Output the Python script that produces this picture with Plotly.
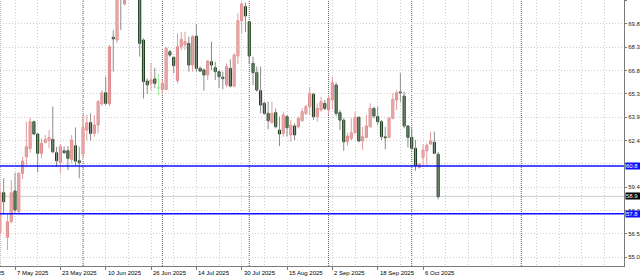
import plotly.graph_objects as go

# ---------------- data (daily candles, bar index 0 = 1 May 2025) ----------------
OPEN = [56.60, 59.13, 56.31, 57.30, 59.24, 57.93, 60.35, 61.41, 61.93, 63.62,
        62.84, 61.62, 62.30, 62.42, 62.50, 61.66, 61.03, 61.78, 61.79, 61.24,
        62.10, 61.15, 61.58, 63.09, 63.56, 62.88, 63.41, 64.74, 65.45, 64.74,
        68.95, 68.78, 73.80, 71.06, 74.50, 75.00, 75.50, 74.30, 68.78, 66.19,
        66.04, 66.32, 65.80, 65.66, 65.66, 68.04, 67.69, 66.21, 68.36, 68.47,
        68.57, 67.20, 69.03, 66.99, 66.89, 66.57, 67.41, 67.03, 66.78, 66.43,
        65.94, 66.99, 65.87, 67.77, 70.00, 70.90, 69.94, 67.31, 66.72, 65.58,
        64.78, 64.15, 63.56, 64.19, 63.09, 62.88, 63.94, 62.78, 63.35, 63.30,
        63.68, 64.15, 64.57, 65.35, 63.94, 64.36, 64.78, 64.36, 64.99, 65.94,
        64.19, 63.72, 62.35, 62.57, 62.92, 63.90, 62.40, 62.63, 63.30, 64.46,
        63.94, 63.62, 62.66, 62.63, 63.83, 64.99, 65.50, 65.24, 63.35, 62.63,
        61.94, 60.73, 61.37, 61.78, 62.21, 62.32, 61.56]
HIGH = [59.70, 60.04, 57.82, 59.93, 60.40, 60.42, 61.40, 63.62, 63.89, 63.68,
        62.88, 62.57, 62.78, 63.09, 64.57, 62.04, 62.21, 62.04, 62.08, 62.78,
        63.26, 62.04, 64.04, 64.04, 64.15, 64.04, 64.99, 65.62, 66.46, 68.47,
        69.40, 76.50, 74.50, 75.20, 75.80, 76.00, 76.00, 78.00, 68.89, 66.36,
        67.35, 67.03, 66.63, 66.29, 68.36, 68.15, 67.73, 69.20, 69.31, 69.31,
        68.99, 69.10, 69.79, 67.10, 66.99, 67.52, 68.68, 67.41, 66.84, 66.78,
        67.30, 67.56, 67.94, 70.47, 71.20, 71.15, 70.00, 67.73, 67.10, 67.10,
        64.90, 64.88, 64.88, 64.46, 63.94, 64.25, 64.04, 63.73, 63.52, 63.94,
        64.46, 64.67, 65.79, 65.45, 64.78, 65.20, 64.99, 65.31, 66.46, 66.10,
        64.36, 63.83, 62.92, 63.83, 64.25, 63.94, 63.30, 64.04, 64.78, 64.57,
        64.57, 63.73, 63.30, 63.94, 65.41, 65.62, 66.68, 65.51, 63.41, 63.20,
        62.46, 60.98, 62.19, 62.25, 62.99, 62.99, 61.72]
LOW = [56.40, 57.72, 55.51, 57.19, 57.82, 57.80, 60.00, 60.88, 61.66, 62.76,
       60.42, 61.30, 62.25, 61.93, 61.62, 60.78, 60.35, 61.57, 60.56, 60.98,
       60.88, 60.04, 61.41, 62.46, 62.42, 62.67, 62.88, 64.61, 64.67, 64.61,
       66.78, 68.61, 69.41, 70.95, 73.20, 73.80, 72.50, 67.73, 65.09, 65.35,
       65.62, 65.73, 65.30, 65.35, 65.62, 67.73, 66.67, 66.04, 68.15, 68.15,
       66.78, 66.78, 66.78, 66.78, 65.58, 66.25, 66.89, 66.25, 65.73, 65.66,
       65.80, 65.79, 65.79, 67.26, 69.20, 69.30, 67.31, 65.94, 65.51, 64.15,
       64.04, 63.14, 63.50, 63.20, 62.08, 62.67, 62.67, 62.35, 62.46, 63.20,
       63.62, 64.04, 64.04, 63.73, 63.62, 64.25, 64.36, 64.04, 64.40, 63.98,
       63.09, 61.78, 62.08, 62.46, 62.85, 62.33, 61.83, 62.57, 63.25, 63.83,
       63.41, 62.46, 61.87, 62.57, 63.77, 64.36, 64.88, 63.20, 62.00, 61.83,
       60.52, 60.66, 60.77, 60.82, 62.14, 61.58, 58.71]
CLOSE = [59.15, 58.56, 57.30, 59.13, 58.04, 60.35, 61.13, 62.04, 63.62, 62.84,
         61.62, 62.25, 62.50, 62.61, 61.72, 61.15, 62.04, 61.66, 61.30, 62.46,
         61.13, 61.03, 63.26, 63.56, 62.88, 63.41, 64.88, 65.45, 64.78, 68.36,
         68.85, 72.60, 71.70, 74.60, 75.00, 75.50, 74.50, 68.57, 66.15, 65.94,
         66.25, 66.04, 65.72, 66.04, 68.26, 67.83, 67.16, 68.36, 68.82, 68.68,
         67.20, 68.99, 66.99, 66.82, 66.57, 67.45, 67.20, 66.78, 66.46, 66.34,
         67.10, 65.87, 67.83, 70.00, 71.06, 70.30, 67.77, 66.72, 65.62, 64.67,
         64.15, 63.68, 64.15, 63.30, 62.84, 64.04, 63.24, 63.41, 62.78, 63.83,
         64.25, 64.57, 65.41, 63.94, 64.46, 64.88, 64.46, 65.10, 66.08, 64.15,
         63.72, 62.35, 62.71, 62.92, 63.90, 62.40, 62.67, 63.35, 64.46, 63.98,
         63.62, 62.67, 62.60, 63.83, 65.03, 65.45, 65.45, 63.35, 62.63, 61.94,
         60.85, 60.94, 61.83, 62.14, 62.40, 61.62, 58.88]

DATE_LABELS = ["21 Apr 2025", "7 May 2025", "23 May 2025", "10 Jun 2025", "26 Jun 2025",
               "14 Jul 2025", "30 Jul 2025", "15 Aug 2025", "2 Sep 2025", "18 Sep 2025",
               "6 Oct 2025"]
DATE_LABEL_BARS = [-8, 4, 16, 28, 40, 52, 64, 76, 88, 100, 112]
MONTH_START_BARS = [0, 22, 43, 66, 87, 109, 138]
PRICE_TICKS = [55.050, 56.525, 58.000, 59.475, 60.950, 62.425, 63.900,
               65.375, 66.850, 68.325, 69.800, 71.275]
# 60.950 is fully hidden behind the level tag in the original
PRICE_TICK_LABELS = ["55.0", "56.5", "58.0", "59.4", "", "62.4",
                     "63.9", "65.3", "66.8", "68.3", "69.8", "71.2"]
LEVELS = [60.82, 57.80]
LEVEL_LABELS = ["60.8", "57.8"]
LAST_PRICE = 58.90
LAST_PRICE_LABEL = "58.9"
ODD_BAR = 42  # pale green bar drawn in the original

# ---------------- styling ----------------
X_RANGE = [0.026, 165.19]
Y_RANGE = [54.50, 71.31]
BODY_W = 0.56
FONT = "Liberation Sans, Arial, sans-serif"
BULL_FILL, BULL_LINE, BULL_WICK = "#f5c6c6", "#de8a8a", "#e49c9c"
BEAR_FILL, BEAR_LINE, BEAR_WICK = "#1f7a1f", "#203a20", "#8c8c8c"
ODD_COL = "#9cf09c"

n = len(OPEN)
idx = list(range(n))

wick = {"bull": ([], []), "bear": ([], []), "odd": ([], [])}
kinds = []
for i in idx:
    k = "odd" if i == ODD_BAR else ("bull" if CLOSE[i] >= OPEN[i] else "bear")
    kinds.append(k)
    wx, wy = wick[k]
    wx += [i, i, None]
    wy += [LOW[i], HIGH[i], None]

wick_col = {"bull": BULL_WICK, "bear": BEAR_WICK, "odd": ODD_COL}
fill_col = {"bull": BULL_FILL, "bear": BEAR_FILL, "odd": ODD_COL}
line_col = {"bull": BULL_LINE, "bear": BEAR_LINE, "odd": ODD_COL}

fig = go.Figure()
for k in ["bull", "bear", "odd"]:
    fig.add_trace(go.Scatter(x=wick[k][0], y=wick[k][1], mode="lines",
                             line=dict(color=wick_col[k], width=1),
                             hoverinfo="skip", connectgaps=False))

bases = [min(o, c) for o, c in zip(OPEN, CLOSE)]
heights = [max(abs(c - o), 0.05) for o, c in zip(OPEN, CLOSE)]
fig.add_trace(go.Bar(x=idx, y=heights, base=bases, width=BODY_W,
                     marker=dict(color=[fill_col[k] for k in kinds],
                                 line=dict(color=[line_col[k] for k in kinds], width=1))))

shapes = []
for b in MONTH_START_BARS:
    shapes.append(dict(type="line", xref="x", yref="paper", x0=b, x1=b, y0=0, y1=1,
                       line=dict(color="#5a5a5a", width=1, dash="1px,1px"), layer="below"))
shapes.append(dict(type="line", xref="paper", yref="y", x0=0, x1=1, y0=LAST_PRICE, y1=LAST_PRICE,
                   line=dict(color="#cfcfcf", width=1), layer="below"))
for lv in LEVELS:
    shapes.append(dict(type="line", xref="paper", yref="y", x0=0, x1=1, y0=lv, y1=lv,
                       line=dict(color="#1010ff", width=1.5), layer="above"))

annotations = []
for lab, b in zip(DATE_LABELS, DATE_LABEL_BARS):
    if X_RANGE[0] <= b <= X_RANGE[1]:
        ref, xv = "x", b
    else:
        ref, xv = "paper", (b - X_RANGE[0]) / (X_RANGE[1] - X_RANGE[0])
    annotations.append(dict(text=lab, xref=ref, x=xv, yref="paper", y=0, xanchor="left",
                            yanchor="top", yshift=-2, showarrow=False,
                            font=dict(family=FONT, size=6, color="#000000")))
for lv, lab in zip(LEVELS, LEVEL_LABELS):
    annotations.append(dict(text=lab, xref="paper", x=1, xanchor="left", xshift=1,
                            yref="y", y=lv, yanchor="middle", showarrow=False,
                            bgcolor="#1010ff", borderpad=0, width=14, align="left",
                            font=dict(family=FONT, size=6, color="#ffffff")))
annotations.append(dict(text=LAST_PRICE_LABEL, xref="paper", x=1, xanchor="left", xshift=1,
                        yref="y", y=LAST_PRICE, yanchor="middle", showarrow=False,
                        bgcolor="#000000", borderpad=0, width=14, align="left",
                        font=dict(family=FONT, size=6, color="#ffffff")))

grid_bars = list(range(-2, 166, 6))

fig.update_layout(
    template="none",
    width=640, height=279,
    margin=dict(l=0, r=16, t=0, b=13, pad=0),
    paper_bgcolor="#ffffff", plot_bgcolor="#ffffff",
    showlegend=False, barmode="overlay",
    shapes=shapes, annotations=annotations,
    xaxis=dict(range=X_RANGE, showline=True, linecolor="#7a7a7a", linewidth=1,
               tickmode="array", tickvals=DATE_LABEL_BARS, showticklabels=False,
               ticks="outside", ticklen=3, tickcolor="#7a7a7a", tickwidth=1,
               showgrid=True, gridcolor="#cdcdcd", griddash="1px,2px", gridwidth=1,
               minor=dict(tickmode="array", tickvals=grid_bars, showgrid=True,
                          gridcolor="#cdcdcd", griddash="1px,2px", gridwidth=1, ticks=""),
               zeroline=False, automargin=False, fixedrange=True),
    yaxis=dict(range=Y_RANGE, side="right", showline=True, linecolor="#7a7a7a", linewidth=1,
               tickmode="array", tickvals=PRICE_TICKS, ticktext=PRICE_TICK_LABELS,
               ticks="outside", ticklen=2, tickcolor="#7a7a7a",
               tickfont=dict(family=FONT, size=6, color="#202020"),
               showgrid=True, gridcolor="#cdcdcd", griddash="1px,2px", gridwidth=1,
               zeroline=False, automargin=False, fixedrange=True),
)

fig.write_html("out.html")
